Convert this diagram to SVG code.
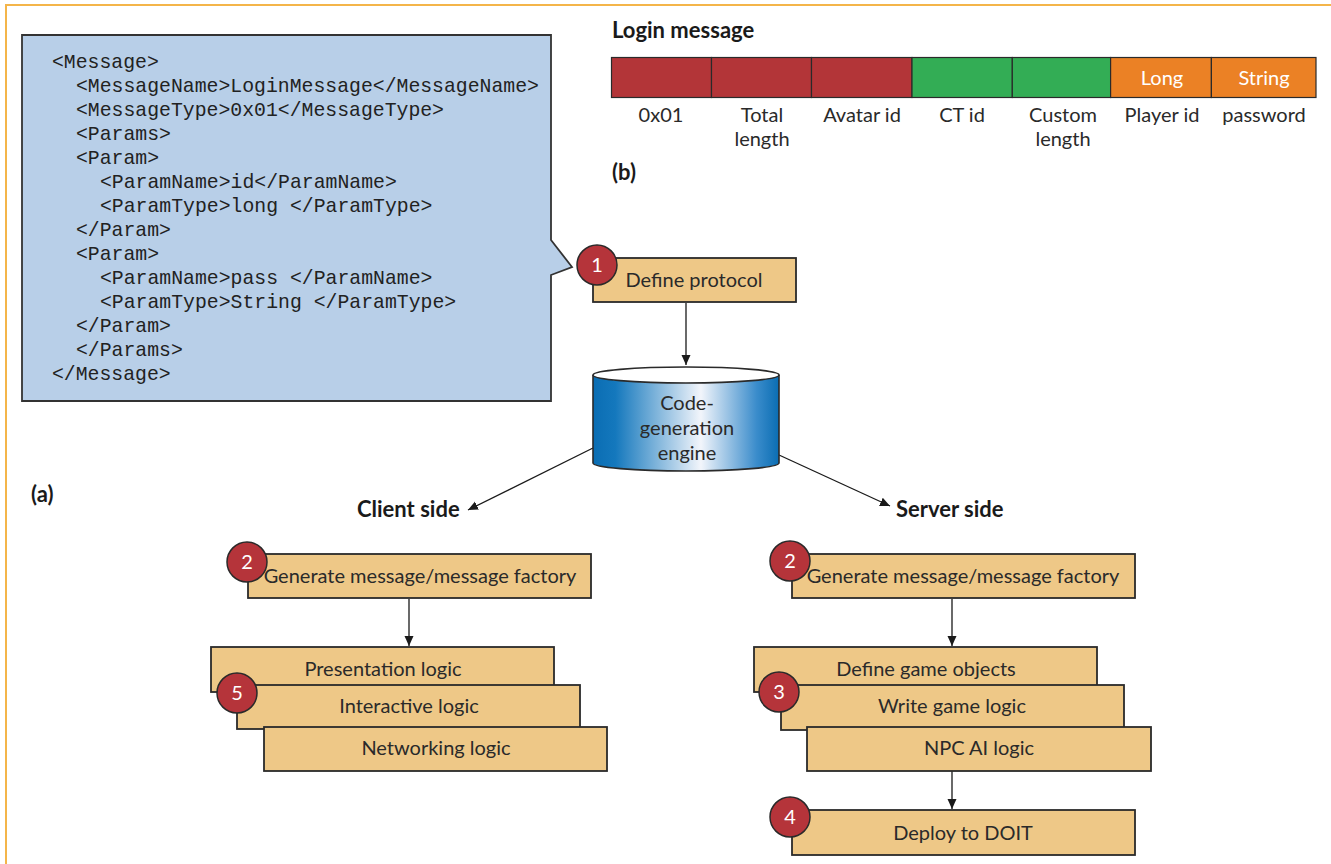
<svg xmlns="http://www.w3.org/2000/svg" width="1331" height="864" viewBox="0 0 1331 864">
<defs>
<style>
.frame{stroke:#f4b54a;stroke-width:2;fill:none}
.code{font-family:"Liberation Mono","DejaVu Sans Mono",monospace;font-size:19.8px;fill:#222}
.t{font-family:Lato,"Liberation Sans",sans-serif;font-size:20px;fill:#2a2a2a}
.tb{font-family:Lato,"Liberation Sans",sans-serif;font-size:22px;font-weight:bold;fill:#1a1a1a}
.tw{font-family:Lato,"Liberation Sans",sans-serif;font-size:20px;fill:#fff}
.box{fill:#eec887;stroke:#2a2a2a;stroke-width:1.8}
.badge{fill:#b5343a;stroke:#2a2a2a;stroke-width:1.5}
.cell{stroke:#2a2a2a;stroke-width:1.2}
.red{fill:#b33538}.green{fill:#33ad55}.orange{fill:#eb8125}
.conn{stroke:#1a1a1a;stroke-width:1.3;fill:none;marker-end:url(#ah)}
</style>
<marker id="ah" markerUnits="userSpaceOnUse" markerWidth="10" markerHeight="10" refX="10" refY="5" orient="auto">
<path d="M0,0.5 L10,5 L0,9.5 Z" fill="#1a1a1a"/>
</marker>
<linearGradient id="cyl" x1="0" y1="0" x2="1" y2="0">
<stop offset="0" stop-color="#0a6db3"/>
<stop offset="0.12" stop-color="#1478bd"/>
<stop offset="0.58" stop-color="#f2f5fb"/>
<stop offset="0.88" stop-color="#3a8ccb"/>
<stop offset="1" stop-color="#0a6db3"/>
</linearGradient>
</defs>
<rect width="1331" height="864" fill="#fff"/>
<path class="frame" d="M6,864 V5 H1331"/>

<g id="xml-callout">
<path d="M22,35 H551 V240 L572,267 L551,275 V401 H22 Z" fill="#b8cfe8" stroke="#333" stroke-width="1.8"/>
<g class="code">
<text x="52" y="68">&lt;Message&gt;</text>
<text x="76" y="92">&lt;MessageName&gt;LoginMessage&lt;/MessageName&gt;</text>
<text x="76" y="116">&lt;MessageType&gt;0x01&lt;/MessageType&gt;</text>
<text x="76" y="140">&lt;Params&gt;</text>
<text x="76" y="164">&lt;Param&gt;</text>
<text x="100" y="188">&lt;ParamName&gt;id&lt;/ParamName&gt;</text>
<text x="100" y="212">&lt;ParamType&gt;long &lt;/ParamType&gt;</text>
<text x="76" y="236">&lt;/Param&gt;</text>
<text x="76" y="260">&lt;Param&gt;</text>
<text x="100" y="284">&lt;ParamName&gt;pass &lt;/ParamName&gt;</text>
<text x="100" y="308">&lt;ParamType&gt;String &lt;/ParamType&gt;</text>
<text x="76" y="332">&lt;/Param&gt;</text>
<text x="76" y="356">&lt;/Params&gt;</text>
<text x="52" y="380">&lt;/Message&gt;</text>
</g>
</g>

<g id="login-message">
<text class="tb" x="612" y="38">Login message</text>
<rect class="cell red" x="611.5" y="57.5" width="100" height="40"/>
<rect class="cell red" x="711.5" y="57.5" width="100" height="40"/>
<rect class="cell red" x="811.5" y="57.5" width="100.5" height="40"/>
<rect class="cell green" x="912" y="57.5" width="100.3" height="40"/>
<rect class="cell green" x="1012.3" y="57.5" width="98.3" height="40"/>
<rect class="cell orange" x="1110.6" y="57.5" width="100.8" height="40"/>
<rect class="cell orange" x="1211.4" y="57.5" width="104.6" height="40"/>
<text class="tw" x="1162" y="85" text-anchor="middle">Long</text>
<text class="tw" x="1264" y="85" text-anchor="middle">String</text>
<g class="t" text-anchor="middle">
<text x="661" y="122">0x01</text>
<text x="762" y="122">Total</text>
<text x="762" y="146">length</text>
<text x="862" y="122">Avatar id</text>
<text x="962" y="122">CT id</text>
<text x="1063" y="122">Custom</text>
<text x="1063" y="146">length</text>
<text x="1162" y="122">Player id</text>
<text x="1264" y="122">password</text>
</g>
<text class="tb" x="612" y="180">(b)</text>
</g>

<g id="connectors">
<line class="conn" x1="686" y1="303" x2="686" y2="365"/>
<line class="conn" x1="593" y1="448" x2="468" y2="510"/>
<line class="conn" x1="779" y1="455" x2="890" y2="506"/>
<line class="conn" x1="409" y1="599" x2="409" y2="646"/>
<line class="conn" x1="952" y1="599" x2="952" y2="646"/>
<line class="conn" x1="952" y1="771" x2="952" y2="809"/>
</g>

<g id="define-protocol">
<rect class="box" x="593" y="258" width="203" height="44"/>
<text class="t" x="694" y="287" text-anchor="middle">Define protocol</text>
<circle class="badge" cx="597" cy="265" r="20"/>
<text class="tw" x="597" y="272" text-anchor="middle">1</text>
</g>

<g id="code-generation-engine">
<path d="M593,375 V463 A93,8 0 0 0 779,463 V375" fill="url(#cyl)" stroke="#2a2a2a" stroke-width="1.6"/>
<ellipse cx="686" cy="375" rx="93" ry="8" fill="#fff" stroke="#2a2a2a" stroke-width="1.6"/>
<g class="t" text-anchor="middle">
<text x="687" y="410">Code-</text>
<text x="687" y="435">generation</text>
<text x="687" y="460">engine</text>
</g>
</g>

<g id="labels">
<text class="tb" x="31" y="502">(a)</text>
<text class="tb" x="357" y="517">Client side</text>
<text class="tb" x="896" y="517">Server side</text>
</g>

<g id="client-generate">
<rect class="box" x="248" y="554" width="343" height="44"/>
<text class="t" x="420" y="583" text-anchor="middle">Generate message/message factory</text>
<circle class="badge" cx="247" cy="562" r="20"/>
<text class="tw" x="247" y="569" text-anchor="middle">2</text>
</g>

<g id="client-logic">
<rect class="box" x="211" y="647" width="343" height="45"/>
<text class="t" x="383" y="676" text-anchor="middle">Presentation logic</text>
<rect class="box" x="237" y="685" width="343" height="44"/>
<text class="t" x="409" y="713" text-anchor="middle">Interactive logic</text>
<rect class="box" x="264" y="727" width="343" height="44"/>
<text class="t" x="436" y="755" text-anchor="middle">Networking logic</text>
<circle class="badge" cx="237" cy="693" r="20"/>
<text class="tw" x="237" y="700" text-anchor="middle">5</text>
</g>

<g id="server-generate">
<rect class="box" x="792" y="554" width="343" height="44"/>
<text class="t" x="963" y="583" text-anchor="middle">Generate message/message factory</text>
<circle class="badge" cx="790" cy="561" r="20"/>
<text class="tw" x="790" y="568" text-anchor="middle">2</text>
</g>

<g id="server-logic">
<rect class="box" x="754" y="647" width="343" height="45"/>
<text class="t" x="926" y="676" text-anchor="middle">Define game objects</text>
<rect class="box" x="781" y="685" width="343" height="45"/>
<text class="t" x="952" y="713" text-anchor="middle">Write game logic</text>
<rect class="box" x="807" y="727" width="344" height="44"/>
<text class="t" x="979" y="755" text-anchor="middle">NPC AI logic</text>
<circle class="badge" cx="779" cy="692" r="20"/>
<text class="tw" x="779" y="699" text-anchor="middle">3</text>
</g>

<g id="deploy">
<rect class="box" x="792" y="810" width="343" height="45"/>
<text class="t" x="963" y="840" text-anchor="middle">Deploy to DOIT</text>
<circle class="badge" cx="790" cy="817" r="20"/>
<text class="tw" x="790" y="824" text-anchor="middle">4</text>
</g>
</svg>
